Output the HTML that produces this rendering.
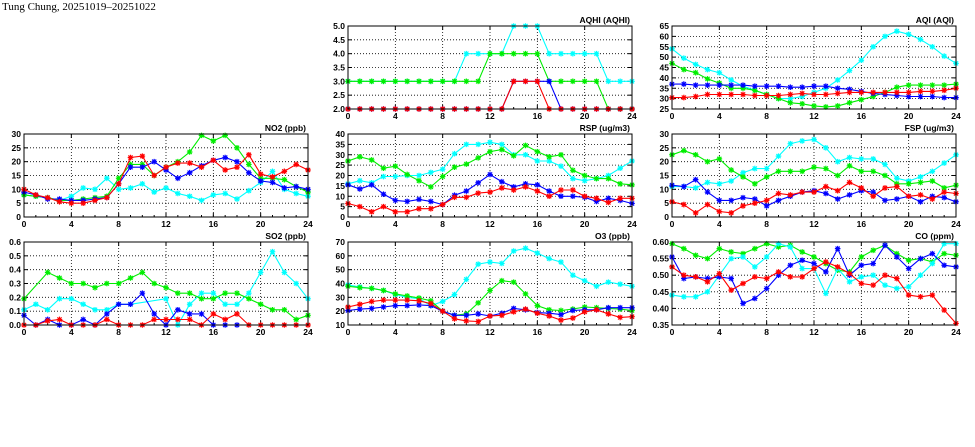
<!DOCTYPE html>
<html><head><meta charset="utf-8"><style>
html,body{margin:0;padding:0;background:#fff;width:975px;height:447px;overflow:hidden}
svg text{font-family:"Liberation Sans",sans-serif;font-weight:bold}
</style></head><body>
<svg id="s" width="975" height="447" xmlns="http://www.w3.org/2000/svg">
<text x="2" y="10" style="font-family:'Liberation Serif',serif;font-weight:normal" font-size="11">Tung Chung, 20251019–20251022</text>
</svg>
<script>
const N=null;
const panels=[
{x:348,y:26,t:"AQHI (AQHI)",min:2,max:5,step:0.5,fmt:1,s:{
 cyan:[3,3,3,3,3,3,3,3,3,3,4,4,4,4,5,5,5,4,4,4,4,4,3,3,3],
 green:[3,3,3,3,3,3,3,3,3,3,3,3,4,4,4,4,4,3,3,3,3,3,2,2,2],
 blue:[2,2,2,2,2,2,2,2,2,2,2,2,2,2,3,3,3,3,2,2,2,2,2,2,2],
 red:[2,2,2,2,2,2,2,2,2,2,2,2,2,2,3,3,3,2,2,2,2,2,2,2,2]}},
{x:672,y:26,t:"AQI (AQI)",min:25,max:65,step:5,fmt:0,s:{
 cyan:[54,49.5,46.5,44,42.5,39,36,34,32,30,30,31,33,35,39,43.5,48.5,55,60,62.5,61,58.5,55,50.5,47],
 green:[47,44,42.5,39.5,37.5,35,35,34,32,30,28,27.5,26.5,26,26.5,28,29.5,31,33,35.5,36.5,36.5,36.5,36.5,37],
 blue:[37,37,36.5,36.5,36.5,36.5,36.5,36,36,36,35.5,35.5,36,36,35,34.5,33.5,32.5,32,31.5,31,31,31,30.5,30.5],
 red:[30.5,30.5,31,32,32,32,32,31.5,31.5,31.5,32,32.5,32,32,32.5,33,33,33,33,33,33,33.5,33.5,34,35]}},
{x:24,y:134,t:"NO2 (ppb)",min:0,max:30,step:5,fmt:0,s:{
 cyan:[8,7.5,7,6,7.5,10.5,10,14,10,10.5,12,9,10.5,8.5,7.5,6,8,8.5,6.5,9.5,12.5,16.5,10,8.5,7.5],
 green:[8,7.5,7,6,6,6.5,7,7.5,14,19,19,15,18,20,23.5,29.5,27.5,29.5,25,19,14,14,13.5,11,9],
 blue:[9,8,6.5,6.5,6,6,6.5,7,12,18,18,20,17,14,16,18.5,20.5,21.5,20,16,13,12.5,10.5,11,10],
 red:[10,8,7,5.5,5,5,6,7,12,21.5,22,15,18,19.5,19.5,18,20.5,17,18,22.5,15.5,14.5,16.5,19,17]}},
{x:348,y:134,t:"RSP (ug/m3)",min:0,max:40,step:5,fmt:0,s:{
 cyan:[16,17.5,16.5,19.5,19.5,20,20,21.5,23,30.5,35,35,36,35,30,30,27,27,24.5,18.5,17.5,18.5,20,23.5,27],
 green:[27,29,27.5,23.5,24.5,20.5,17.5,14.5,19.5,24,25.5,28.5,31.5,32.5,29.5,34.5,31.5,29,30,22.5,20,18.5,18.5,16,15.5],
 blue:[15.5,13.5,15.5,11,8,7.5,8.5,7.5,6,10.5,12.5,16.5,20.5,17,14.5,16,15.5,12.5,10,10,9.5,7.5,9,8,6.5],
 red:[6.5,5,2.5,5,2.5,2.5,4,4,6,9.5,9.5,11.5,12,14,13,14.5,12.5,10,13,13,10,9,7,9,9]}},
{x:672,y:134,t:"FSP (ug/m3)",min:0,max:30,step:5,fmt:0,s:{
 cyan:[11,11,10.5,12.5,12,13,16,17.5,17.5,22,26.5,27.5,28,25,20,21.5,21,21,19,14,13,14.5,16.5,19.5,22.5],
 green:[22.5,24,22.5,20,21,17,14.5,12,14.5,16.5,16.5,16.5,18,17.5,15,18.5,16.5,16.5,15,12,12,12.5,13,10.5,11.5],
 blue:[11.5,11,13.5,9,6,6,7,6.5,4,6,7.5,9,9.5,8.5,6.5,8,9.5,9,6,6.5,7.5,5.5,7.5,7,5.5],
 red:[5.5,4.5,1.5,4.5,2,1.5,4,5,6,8.5,8,9,9,11,9.5,12.5,10.5,7.5,10.5,11,7.5,8,6.5,9,8.5]}},
{x:24,y:242,t:"SO2 (ppb)",min:0,max:0.6,step:0.1,fmt:1,s:{
 cyan:[.11,.15,.11,.19,.19,.15,.11,.11,.15,.15,N,N,.19,0,.15,.23,.23,.15,.15,.23,.38,.53,.38,.30,.19],
 green:[.19,N,.38,.34,.30,.30,.27,.30,.30,.34,.38,.30,.27,.23,.23,.19,.19,.23,.23,.19,.15,.11,.11,.04,.07],
 blue:[.07,0,.04,0,0,.04,0,.08,.15,.15,.23,.08,0,.11,.08,.08,0,0,0,N,N,N,N,N,N],
 red:[0,0,.03,.04,0,0,0,.04,0,0,0,.04,.04,.04,.04,0,.08,.04,.08,0,0,0,0,0,0]}},
{x:348,y:242,t:"O3 (ppb)",min:10,max:70,step:10,fmt:0,s:{
 cyan:[39,37.5,36.5,35,32,30,29,24,27,32,43,54,55.5,54.5,63.5,65.5,62,58,55.5,46,42,38,41,39.5,38],
 green:[38,37,36.5,35,32.5,31,29.5,27.5,20,17,18,26,35,42,41,32.5,24,21,20.5,21.5,23,22.5,22,21.5,20.5],
 blue:[20.5,21.5,22,23,24,24,24.5,24,20,17,17,18,16.5,18.5,22,21,19,18.5,17.5,20.5,21,21,22.5,22.5,22.5],
 red:[23,25,27,28,28,28,27.5,25.5,20,14.5,13,12.5,16.5,17,19.5,21.5,18.5,16.5,13.5,15,19.5,21,18,15.5,16]}},
{x:672,y:242,t:"CO (ppm)",min:0.35,max:0.6,step:0.05,fmt:2,s:{
 green:[.595,.58,.56,.55,.58,.57,.565,.58,.595,.585,.59,.57,.555,.535,.515,.51,.555,.575,.59,.565,.545,.55,.54,.565,.56],
 cyan:[.44,.435,.435,.45,.50,.55,.555,.525,.555,.595,.585,.52,.52,.445,.52,.48,.495,.5,.47,.46,.465,.50,.535,.595,.595],
 blue:[.555,.49,.495,.49,.495,.49,.415,.43,.46,.50,.53,.545,.535,.51,.58,.50,.53,.535,.59,.555,.52,.55,.565,.53,.525],
 red:[.525,.50,.495,.48,.505,.455,.475,.495,.49,.51,.495,.495,.52,.54,.525,.505,.475,.47,.50,.49,.44,.435,.44,.395,.355]}}
];
const col={cyan:"#00ffff",green:"#00ee00",blue:"#0000ff",red:"#ff0000"};
const W=284,H=83;let h="";
for(const p of panels){
 const X=i=>p.x+i*W/24,Y=v=>p.y+H-(v-p.min)/(p.max-p.min)*H;
 const nt=Math.round((p.max-p.min)/p.step);
 for(let k=0;k<=nt;k++){const v=p.min+k*p.step,y=Y(v);
  if(k>0&&k<nt)h+=`<line x1="${p.x}" x2="${p.x+W}" y1="${y}" y2="${y}" stroke="#000" stroke-width="0.8" stroke-dasharray="1,2"/>`;
  h+=`<line x1="${p.x}" x2="${p.x+4}" y1="${y}" y2="${y}" stroke="#000"/><line x1="${p.x+W-4}" x2="${p.x+W}" y1="${y}" y2="${y}" stroke="#000"/>`;
  h+=`<text x="${p.x-3}" y="${y+3}" font-size="8.5" text-anchor="end">${v.toFixed(p.fmt)}</text>`;}
 for(let i=0;i<=24;i++){const x=X(i);
  if(i%4==0){if(i>0&&i<24)h+=`<line x1="${x}" x2="${x}" y1="${p.y}" y2="${p.y+H}" stroke="#000" stroke-width="0.8" stroke-dasharray="1,2"/>`;
   h+=`<text x="${x}" y="${p.y+H+10}" font-size="8.5" text-anchor="middle">${i}</text>`;
   h+=`<line x1="${x}" x2="${x}" y1="${p.y+H}" y2="${p.y+H-4}" stroke="#000"/><line x1="${x}" x2="${x}" y1="${p.y}" y2="${p.y+4}" stroke="#000"/>`;}
  else h+=`<line x1="${x}" x2="${x}" y1="${p.y+H}" y2="${p.y+H-2}" stroke="#000"/>`;}
 for(const [k,d] of Object.entries(p.s)){
  const pts=[];d.forEach((v,i)=>{if(v!==null)pts.push([X(i),Y(v)])});
  h+=`<polyline fill="none" stroke="${col[k]}" stroke-width="1.1" points="${pts.map(q=>q.map(n=>n.toFixed(1)).join(",")).join(" ")}"/>`;
  for(const [x,y] of pts){const r=2.8;
   h+=`<path d="M${x-r} ${y}h${2*r}M${x} ${y-r}v${2*r}M${x-r*.75} ${y-r*.75}l${1.5*r} ${1.5*r}M${x-r*.75} ${y+r*.75}l${1.5*r} ${-1.5*r}" stroke="${col[k]}" stroke-width="1.2"/>`;}
 }
 h+=`<rect x="${p.x}" y="${p.y}" width="${W}" height="${H}" fill="none" stroke="#000" stroke-width="1"/>`;
 h+=`<text x="${p.x+W-2}" y="${p.y-3}" font-size="8.5" text-anchor="end">${p.t}</text>`;
}
document.getElementById("s").insertAdjacentHTML("beforeend",h);
</script>
</body></html>
